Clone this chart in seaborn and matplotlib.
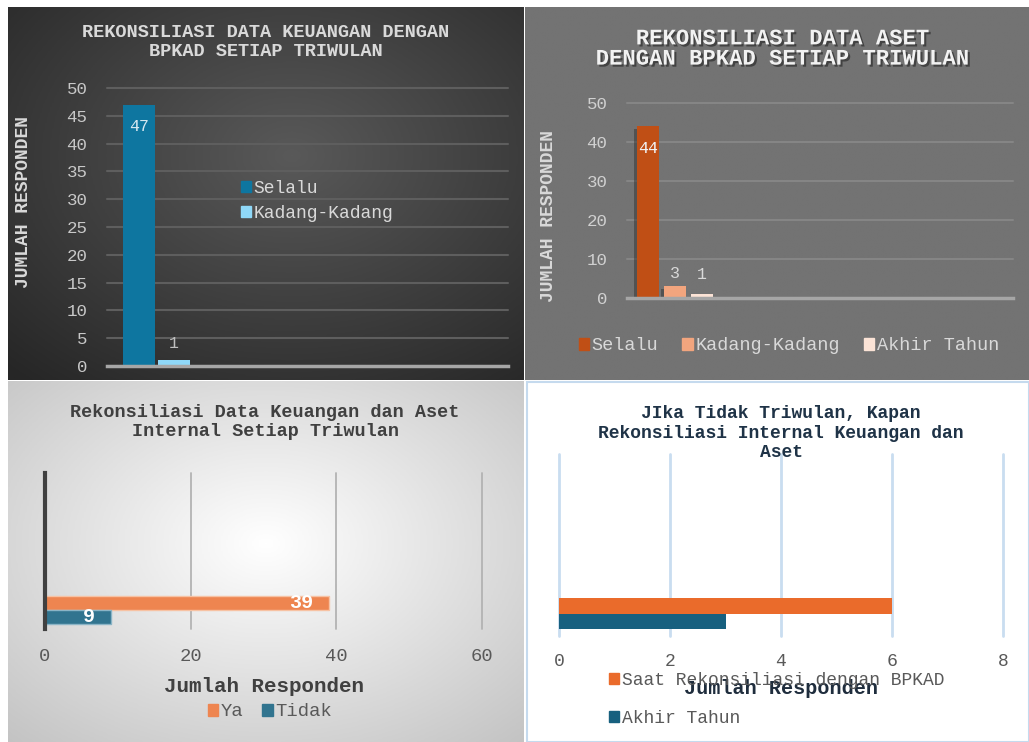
import matplotlib
matplotlib.use('Agg')
import numpy as np
import pandas as pd
import seaborn as sns
import matplotlib.pyplot as plt
import matplotlib.patheffects as pe
from matplotlib.patches import Patch, Rectangle
from matplotlib.colors import LinearSegmentedColormap

# data
kategori = ['']
seri_keu_bpkad = ['Selalu', 'Kadang-Kadang']
nilai_keu_bpkad = [47, 1]
seri_aset_bpkad = ['Selalu', 'Kadang-Kadang', 'Akhir Tahun']
nilai_aset_bpkad = [44, 3, 1]
seri_internal = ['Ya', 'Tidak']
nilai_internal = [39, 9]
seri_kapan = ['Saat Rekonsiliasi dengan BPKAD', 'Akhir Tahun']
nilai_kapan = [6, 3]

sns.set_style('white')
plt.rcParams['font.family'] = ['Liberation Mono', 'DejaVu Sans Mono']

W, H = 1029, 742
fig = plt.figure(figsize=(W / 100, H / 100), dpi=100)


def box(x0, y0, x1, y1):
    return [x0 / W, 1 - y1 / H, (x1 - x0) / W, (y1 - y0) / H]


def fx(x):
    return x / W


def fy(y):
    return 1 - y / H


def latar(x0, y0, x1, y1, warna_tengah, warna_tepi, cx=0.5, cy=0.5, r=0.75):
    ax = fig.add_axes(box(x0, y0, x1, y1))
    ax.set_axis_off()
    yy, xx = np.mgrid[0:1:300j, 0:1:300j]
    d = np.sqrt((xx - cx) ** 2 + (yy - cy) ** 2) / r
    cmap = LinearSegmentedColormap.from_list('g', [warna_tengah, warna_tepi])
    ax.imshow(d, cmap=cmap, vmin=0, vmax=1, extent=[0, 1, 0, 1], aspect='auto', origin='upper')
    return ax


def label_bar(ax, container, teks, dy, warna, size, weight='normal', horiz=False, dx=0):
    for bar, t in zip(container, teks):
        if horiz:
            xy = (bar.get_width(), bar.get_y() + bar.get_height() / 2)
            ax.annotate(t, xy, xytext=(dx, 0), textcoords='offset points',
                        ha='right', va='center', color=warna, fontsize=size, fontweight=weight)
        else:
            xy = (bar.get_x() + bar.get_width() / 2, bar.get_height())
            ax.annotate(t, xy, xytext=(0, dy), textcoords='offset points',
                        ha='center', va='center', color=warna, fontsize=size, fontweight=weight)


# ---------- panel 1 ----------
latar(8, 7, 523, 380, '#595959', '#262626', cx=0.55, cy=0.4, r=0.8)
ax1 = fig.add_axes(box(107, 88, 508, 366))
ax1.patch.set_alpha(0)
df1 = pd.DataFrame({'kategori': kategori * len(seri_keu_bpkad),
                    'jawaban': seri_keu_bpkad, 'jumlah': nilai_keu_bpkad})
warna1 = ['#0E76A0', '#8FD8F8']
sns.barplot(data=df1, x='kategori', y='jumlah', hue='jawaban', palette=warna1, saturation=1,
            gap=0.1, legend=False, ax=ax1, zorder=3, linewidth=0, edgecolor='none')
ax1.set_xlim(-0.558, 3.96)
ax1.set_ylim(0, 50)
ax1.set_yticks(range(0, 51, 5))
ax1.set_xticks([])
ax1.set_xlabel('')
ax1.grid(axis='y', color='#5e5e5e', linewidth=1.5)
for g in ax1.get_ygridlines():
    g.set_clip_on(False)
ax1.set_axisbelow(True)
for s in ['top', 'right', 'left']:
    ax1.spines[s].set_visible(False)
ax1.spines['bottom'].set_color('#a6a6a6')
ax1.spines['bottom'].set_linewidth(2.5)
ax1.spines['bottom'].set_zorder(4)
ax1.tick_params(axis='y', length=0, labelsize=12.6, labelcolor='#c8c8c8', pad=14)
ax1.set_ylabel('JUMLAH RESPONDEN', fontsize=13, fontweight='bold', color='#d9d9d9')
ax1.yaxis.set_label_coords(-0.187, 0.59)
label_bar(ax1, ax1.containers[0], ['47'], -16, '#d6e8f0', 12)
label_bar(ax1, ax1.containers[1], ['1'], 12, '#bfbfbf', 12)
h1 = [Patch(color=c) for c in warna1]
ax1.legend(h1, seri_keu_bpkad, loc='upper left', bbox_to_anchor=(fx(241), fy(180)),
           bbox_transform=fig.transFigure, frameon=False, fontsize=13, labelcolor='#d9d9d9',
           handlelength=0.55, handleheight=0.55, handletextpad=0.15, labelspacing=0.45,
           borderpad=0, borderaxespad=0)
fig.text(fx(266), fy(42), 'REKONSILIASI DATA KEUANGAN DENGAN\nBPKAD SETIAP TRIWULAN',
         ha='center', va='center', fontsize=13.4, fontweight='bold', color='#d9d9d9',
         linespacing=1.15)

# ---------- panel 2 ----------
latar(525, 7, 1029, 380, '#737373', '#737373')
ax2 = fig.add_axes(box(627, 103, 1013, 298))
ax2.patch.set_alpha(0)
df2 = pd.DataFrame({'kategori': kategori * len(seri_aset_bpkad),
                    'jawaban': seri_aset_bpkad, 'jumlah': nilai_aset_bpkad})
warna2 = ['#C04F15', '#F2A57E', '#FBE3D6']
sns.barplot(data=df2, x='kategori', y='jumlah', hue='jawaban', palette=warna2, saturation=1,
            gap=0.185, legend=False, ax=ax2, zorder=3, linewidth=0, edgecolor='none')
for bar in ax2.patches:
    bar.set_path_effects([pe.withSimplePatchShadow(offset=(-2, -2), shadow_rgbFace='#333333', alpha=0.5)])
ax2.set_xlim(-0.474, 3.338)
ax2.set_ylim(0, 50)
ax2.set_yticks(range(0, 51, 10))
ax2.set_xticks([])
ax2.set_xlabel('')
ax2.grid(axis='y', color='#858585', linewidth=1.5)
for g in ax2.get_ygridlines():
    g.set_clip_on(False)
ax2.set_axisbelow(True)
for s in ['top', 'right', 'left']:
    ax2.spines[s].set_visible(False)
ax2.spines['bottom'].set_color('#a6a6a6')
ax2.spines['bottom'].set_linewidth(2.5)
ax2.spines['bottom'].set_zorder(4)
ax2.tick_params(axis='y', length=0, labelsize=12.6, labelcolor='#d0d0d0', pad=14)
ax2.set_ylabel('JUMLAH RESPONDEN', fontsize=13, fontweight='bold', color='#d9d9d9')
ax2.yaxis.set_label_coords(-0.181, 0.42)
label_bar(ax2, ax2.containers[0], ['44'], -16, '#f2f2f2', 12)
label_bar(ax2, ax2.containers[1], ['3'], 9, '#d9d9d9', 12)
label_bar(ax2, ax2.containers[2], ['1'], 14, '#d9d9d9', 12)
h2 = [Patch(color=c) for c in warna2]
ax2.legend(h2, seri_aset_bpkad, loc='center', bbox_to_anchor=(fx(789), fy(346)),
           bbox_transform=fig.transFigure, frameon=False, fontsize=13.3, labelcolor='#d9d9d9',
           ncol=3, handlelength=0.55, handleheight=0.55, handletextpad=0.15, columnspacing=1.3,
           borderpad=0, borderaxespad=0)
fig.text(fx(783), fy(49), 'REKONSILIASI DATA ASET\nDENGAN BPKAD SETIAP TRIWULAN',
         ha='center', va='center', fontsize=16, fontweight='bold', color='#f2f2f2',
         linespacing=0.95,
         path_effects=[pe.withSimplePatchShadow(offset=(1.5, -1.5), shadow_rgbFace='#222222', alpha=0.6)])

# ---------- panel 3 ----------
latar(8, 381, 523, 742, '#ffffff', '#c3c3c3', cx=0.5, cy=0.45, r=0.75)
ax3 = fig.add_axes(box(45, 473, 482, 629))
ax3.patch.set_alpha(0)
df3 = pd.DataFrame({'kategori': kategori * len(seri_internal),
                    'jawaban': seri_internal, 'jumlah': nilai_internal})
warna3 = ['#EE8550', '#31748F']
sns.barplot(data=df3, x='jumlah', y='kategori', hue='jawaban', palette=warna3, orient='h',
            saturation=1, gap=0.0, legend=False, ax=ax3, zorder=3, edgecolor='#f7c2a3', linewidth=1)
ax3.containers[1][0].set_edgecolor('#8ab4c6')
ax3.set_xlim(0, 60)
ax3.set_ylim(0.543, -3.914)
ax3.set_xticks([0, 20, 40, 60])
ax3.set_yticks([])
ax3.set_ylabel('')
ax3.grid(axis='x', color='#b3b3b3', linewidth=1.3)
for g in ax3.get_xgridlines():
    g.set_clip_on(False)
ax3.set_axisbelow(True)
for s in ['top', 'right', 'bottom']:
    ax3.spines[s].set_visible(False)
ax3.spines['left'].set_color('#404040')
ax3.spines['left'].set_linewidth(3)
ax3.spines['left'].set_zorder(4)
ax3.tick_params(axis='x', length=0, labelsize=13.6, labelcolor='#595959', pad=14)
ax3.set_xlabel('Jumlah Responden', fontsize=15, fontweight='bold', color='#404040')
ax3.xaxis.set_label_coords(0.501, -0.31)
label_bar(ax3, ax3.containers[0], ['39'], 0, 'white', 14.5, weight='bold', horiz=True, dx=-11.5)
label_bar(ax3, ax3.containers[1], ['9'], 0, 'white', 14.5, weight='bold', horiz=True, dx=-11.5)
h3 = [Patch(color=c) for c in warna3]
ax3.legend(h3, seri_internal, loc='center', bbox_to_anchor=(fx(270), fy(712)),
           bbox_transform=fig.transFigure, frameon=False, fontsize=13.6, labelcolor='#595959',
           ncol=2, handlelength=0.55, handleheight=0.55, handletextpad=0.15, columnspacing=1.0,
           borderpad=0, borderaxespad=0)
fig.text(fx(265), fy(422), 'Rekonsiliasi Data Keuangan dan Aset\nInternal Setiap Triwulan',
         ha='center', va='center', fontsize=13.3, fontweight='bold', color='#404040',
         linespacing=1.14)

# ---------- panel 4 ----------
latar(526, 381, 1029, 742, '#ffffff', '#ffffff')
fig.patches.append(Rectangle((fx(526.5), fy(741.5)), (1029 - 527) / W, (741.5 - 381.5) / H,
                             transform=fig.transFigure, fill=False, edgecolor='#c5daee',
                             linewidth=1.5, zorder=1))
ax4 = fig.add_axes(box(559, 454, 1003, 636))
ax4.patch.set_alpha(0)
df4 = pd.DataFrame({'kategori': kategori * len(seri_kapan),
                    'jawaban': seri_kapan, 'jumlah': nilai_kapan})
warna4 = ['#EA6B2B', '#17607F']
sns.barplot(data=df4, x='jumlah', y='kategori', hue='jawaban', palette=warna4, orient='h',
            saturation=1, gap=0.0, legend=False, ax=ax4, zorder=3, linewidth=0, edgecolor='none')
ax4.set_xlim(0, 8)
ax4.set_ylim(0.58, -4.116)
ax4.set_xticks([0, 2, 4, 6, 8])
ax4.set_yticks([])
ax4.set_ylabel('')
ax4.grid(axis='x', color='#c9ddf0', linewidth=2)
for g in ax4.get_xgridlines():
    g.set_clip_on(False)
ax4.set_axisbelow(True)
for s in ['top', 'right', 'bottom', 'left']:
    ax4.spines[s].set_visible(False)
ax4.tick_params(axis='x', length=0, labelsize=13, labelcolor='#595959', pad=12)
ax4.set_xlabel('Jumlah Responden', fontsize=14.5, fontweight='bold', color='#1f2d3d', zorder=5)
ax4.xaxis.set_label_coords(0.5, -0.235)
h4 = [Patch(color=c) for c in warna4]
ax4.legend(h4, seri_kapan, loc='upper left', bbox_to_anchor=(fx(609), fy(672)),
           bbox_transform=fig.transFigure, frameon=False, fontsize=13, labelcolor='#595959',
           handlelength=0.55, handleheight=0.55, handletextpad=0.15, labelspacing=1.15,
           borderpad=0, borderaxespad=0)
fig.text(fx(781), fy(433), 'JIka Tidak Triwulan, Kapan\nRekonsiliasi Internal Keuangan dan\nAset',
         ha='center', va='center', fontsize=13, fontweight='bold', color='#1f3347',
         linespacing=1.16)

fig.savefig('out.png', dpi=100, facecolor='white')
